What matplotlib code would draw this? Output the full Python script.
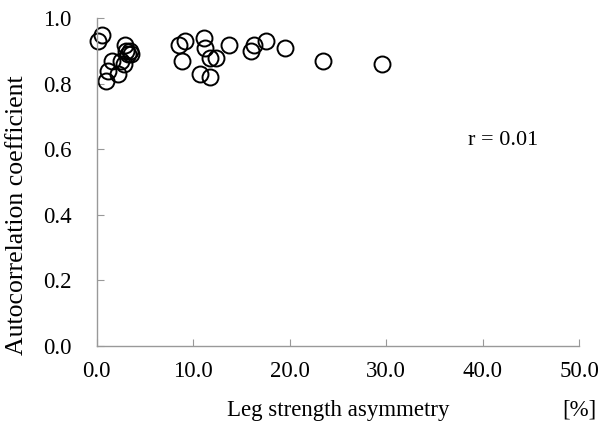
import matplotlib
matplotlib.use("Agg")
import matplotlib.pyplot as plt

# leg strength asymmetry [%] vs autocorrelation coefficient
asym = [0.1, 0.5, 2.9, 3.5, 3.2, 3.6, 3.0, 1.6, 2.5, 2.8, 1.2, 2.2, 1.0,
        8.5, 9.2, 11.1, 11.2, 8.8, 11.7, 12.4, 10.7, 11.7, 13.7,
        16.0, 16.3, 17.5, 19.5, 23.4, 29.6]
autocorr = [0.93, 0.95, 0.92, 0.90, 0.89, 0.89, 0.90, 0.87, 0.87, 0.86, 0.84, 0.83, 0.81,
            0.92, 0.93, 0.94, 0.91, 0.87, 0.88, 0.88, 0.83, 0.82, 0.92,
            0.90, 0.92, 0.93, 0.91, 0.87, 0.86]

plt.rcParams['font.family'] = ['Liberation Serif', 'DejaVu Serif']

fig = plt.figure(figsize=(5.98, 4.29), dpi=100)
ax = fig.add_axes([0.1617, 0.194, 0.807, 0.763])

ax.plot(asym, autocorr, linestyle='none', marker='o', markersize=11.5,
        markerfacecolor='none', markeredgecolor='black', markeredgewidth=1.4,
        clip_on=False)

ax.set_xlim(0, 50)
ax.set_ylim(0, 1.0)
ax.set_xticks([0, 10, 20, 30, 40, 50])
ax.set_yticks([0, 0.2, 0.4, 0.6, 0.8, 1.0])
ax.set_xticklabels(['0.0', '10.0', '20.0', '30.0', '40.0', '50.0'])
ax.set_yticklabels(['0.0', '0.2', '0.4', '0.6', '0.8', '1.0'])

for s in ['top', 'right']:
    ax.spines[s].set_visible(False)
for s in ['left', 'bottom']:
    ax.spines[s].set_color('#999999')
    ax.spines[s].set_linewidth(1.0)

ax.tick_params(axis='x', direction='in', length=5, color='#999999', pad=11, labelsize=16.5)
ax.tick_params(axis='y', direction='in', length=5, color='#999999', pad=18, labelsize=16.5)

ax.set_ylabel('Autocorrelation coefficient', fontsize=18.5)
ax.yaxis.set_label_coords(-0.142, 0.40)
ax.set_xlabel('Leg strength asymmetry', fontsize=16.5, labelpad=13)
fig.text(0.998, 0.045, '[%]', fontsize=16.5, ha='right', va='center')

ax.text(38.5, 0.628, 'r = 0.01', fontsize=16, ha='left', va='center')

fig.savefig('out.png', dpi=100)
